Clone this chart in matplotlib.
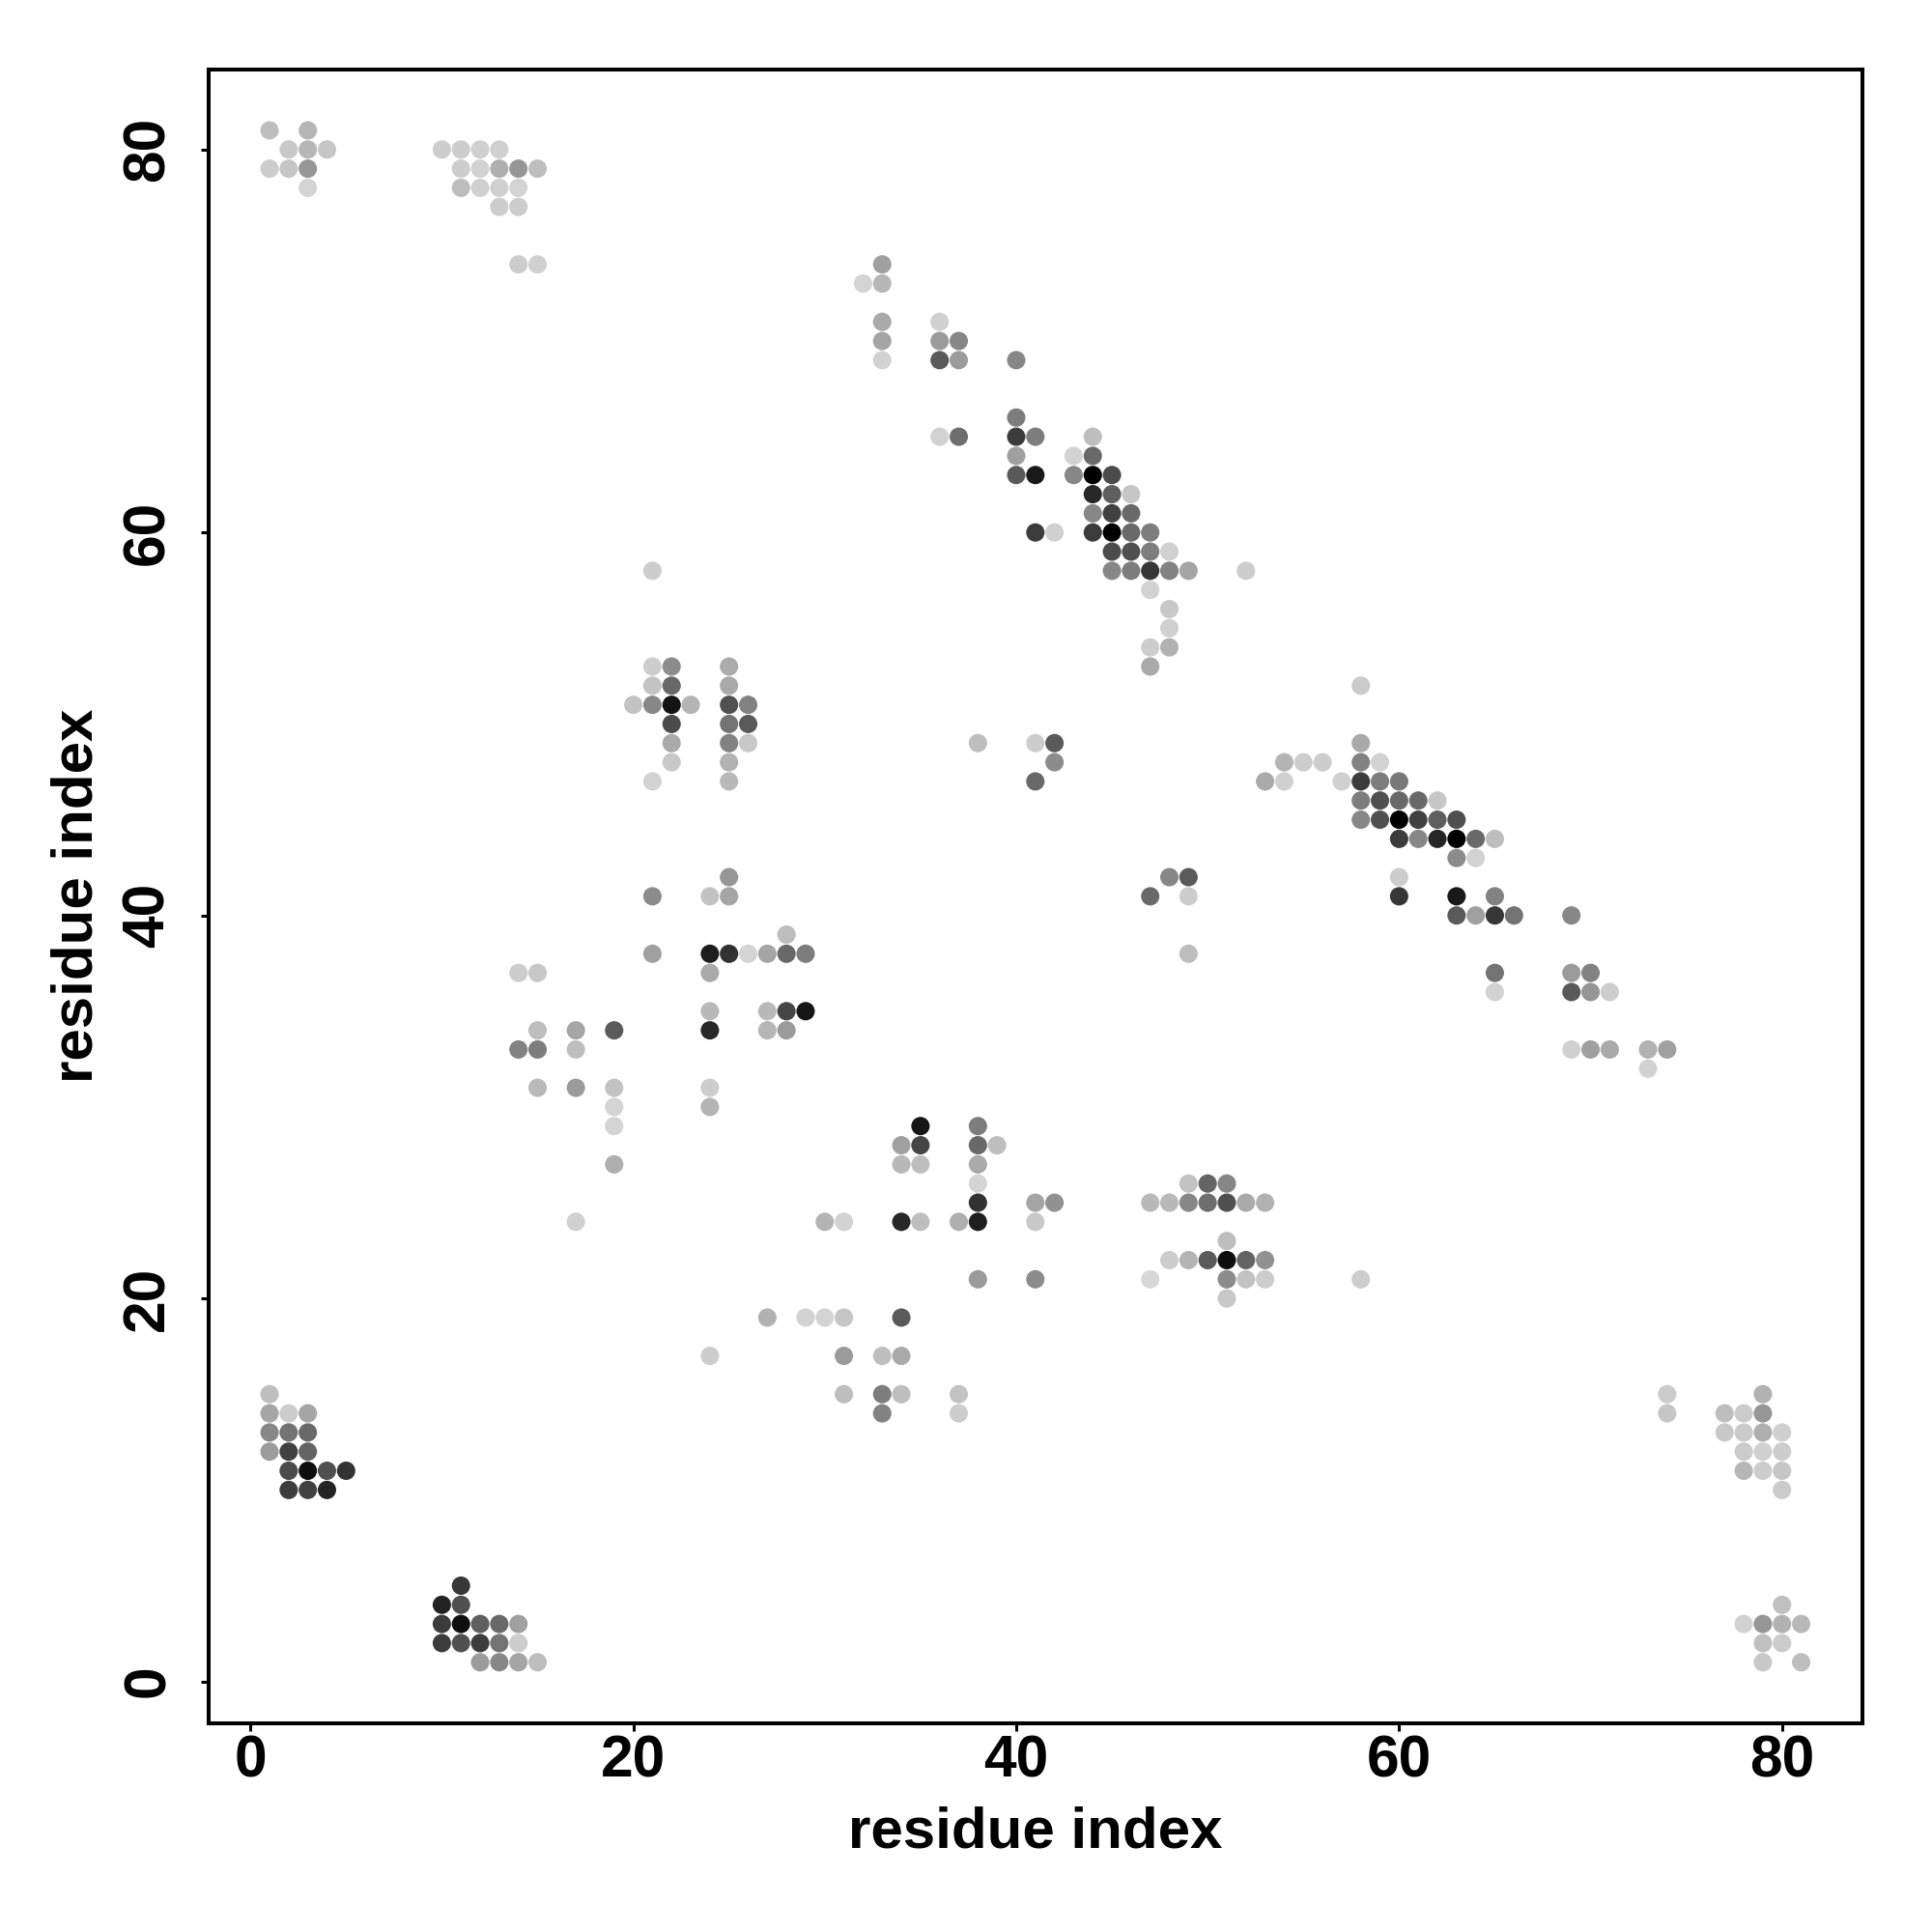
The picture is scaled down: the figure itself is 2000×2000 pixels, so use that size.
import matplotlib
matplotlib.use('Agg')
import matplotlib.pyplot as plt

plt.rcParams['font.family'] = ['Liberation Sans', 'DejaVu Sans']
plt.rcParams['font.weight'] = 'bold'

# contacts, one line per row of the map (top to bottom)
res_x = [
    1, 3,
    2, 3, 4, 10, 11, 12, 13,
    1, 2, 3, 11, 12, 13, 14, 15,
    3, 11, 12, 13, 14,
    13, 14,
    14, 15, 33,
    32, 33,
    33, 36,
    33, 36, 37,
    33, 36, 37, 40,
    40,
    36, 37, 40, 41, 44,
    40, 43, 44,
    40, 41, 43, 44, 45,
    44, 45, 46,
    44, 45, 46,
    41, 42, 44, 45, 46, 47,
    45, 46, 47, 48,
    21, 45, 46, 47, 48, 49, 52,
    47,
    48,
    48,
    47, 48,
    21, 22, 25, 47,
    21, 22, 25, 58,
    20, 21, 22, 23, 25, 26,
    22, 25, 26,
    22, 25, 26, 38, 41, 42, 58,
    22, 25, 42, 54, 55, 56, 58, 59,
    21, 25, 41, 53, 54, 57, 58, 59, 60,
    58, 59, 60, 61, 62,
    58, 59, 60, 61, 62, 63,
    60, 61, 62, 63, 64, 65,
    63, 64,
    25, 48, 49, 60,
    21, 24, 25, 47, 49, 60, 63, 65,
    63, 64, 65, 66, 69,
    28,
    21, 24, 25, 26, 27, 28, 29, 49,
    14, 15, 24, 65, 69, 70,
    65, 69, 70, 71,
    24, 27, 28, 29,
    15, 17, 19, 24, 27, 28,
    14, 15, 17, 69, 70, 71, 73, 74,
    73,
    15, 17, 19, 24,
    19, 24,
    19, 35, 38,
    34, 35, 38, 39,
    19, 34, 35, 38,
    38, 49, 50, 51,
    38, 41, 42, 47, 48, 49, 50, 51, 52, 53,
    17, 30, 31, 34, 35, 37, 38, 41,
    51,
    48, 49, 50, 51, 52, 53,
    38, 41, 47, 51, 52, 53, 58,
    51,
    27, 29, 30, 31, 34,
    24, 31, 33, 34,
    1, 31, 33, 34, 37, 74, 79,
    1, 2, 3, 33, 37, 74, 77, 78, 79,
    1, 2, 3, 77, 78, 79, 80,
    1, 2, 3, 78, 79, 80,
    2, 3, 4, 5, 78, 79, 80,
    2, 3, 4, 80,
    11,
    10, 11, 80,
    10, 11, 12, 13, 14, 78, 79, 80, 81,
    10, 11, 12, 13, 14, 79, 80,
    12, 13, 14, 15, 79, 81,
]
res_y = [
    81, 81,
    80, 80, 80, 80, 80, 80, 80,
    79, 79, 79, 79, 79, 79, 79, 79,
    78, 78, 78, 78, 78,
    77, 77,
    74, 74, 74,
    73, 73,
    71, 71,
    70, 70, 70,
    69, 69, 69, 69,
    66,
    65, 65, 65, 65, 65,
    64, 64, 64,
    63, 63, 63, 63, 63,
    62, 62, 62,
    61, 61, 61,
    60, 60, 60, 60, 60, 60,
    59, 59, 59, 59,
    58, 58, 58, 58, 58, 58, 58,
    57,
    56,
    55,
    54, 54,
    53, 53, 53, 53,
    52, 52, 52, 52,
    51, 51, 51, 51, 51, 51,
    50, 50, 50,
    49, 49, 49, 49, 49, 49, 49,
    48, 48, 48, 48, 48, 48, 48, 48,
    47, 47, 47, 47, 47, 47, 47, 47, 47,
    46, 46, 46, 46, 46,
    45, 45, 45, 45, 45, 45,
    44, 44, 44, 44, 44, 44,
    43, 43,
    42, 42, 42, 42,
    41, 41, 41, 41, 41, 41, 41, 41,
    40, 40, 40, 40, 40,
    39,
    38, 38, 38, 38, 38, 38, 38, 38,
    37, 37, 37, 37, 37, 37,
    36, 36, 36, 36,
    35, 35, 35, 35,
    34, 34, 34, 34, 34, 34,
    33, 33, 33, 33, 33, 33, 33, 33,
    32,
    31, 31, 31, 31,
    30, 30,
    29, 29, 29,
    28, 28, 28, 28,
    27, 27, 27, 27,
    26, 26, 26, 26,
    25, 25, 25, 25, 25, 25, 25, 25, 25, 25,
    24, 24, 24, 24, 24, 24, 24, 24,
    23,
    22, 22, 22, 22, 22, 22,
    21, 21, 21, 21, 21, 21, 21,
    20,
    19, 19, 19, 19, 19,
    17, 17, 17, 17,
    15, 15, 15, 15, 15, 15, 15,
    14, 14, 14, 14, 14, 14, 14, 14, 14,
    13, 13, 13, 13, 13, 13, 13,
    12, 12, 12, 12, 12, 12,
    11, 11, 11, 11, 11, 11, 11,
    10, 10, 10, 10,
    5,
    4, 4, 4,
    3, 3, 3, 3, 3, 3, 3, 3, 3,
    2, 2, 2, 2, 2, 2, 2,
    1, 1, 1, 1, 1, 1,
]
# grey level of each dot, 0 = black, 255 = white
shade = [
    190, 182,
    200, 182, 198, 205, 205, 208, 208,
    205, 198, 150, 205, 210, 175, 150, 190,
    212, 188, 208, 208, 212,
    205, 205,
    205, 208, 160,
    212, 182,
    170, 208,
    165, 155, 135,
    210, 90, 155, 135,
    125,
    210, 110, 60, 125, 190,
    160, 210, 105,
    90, 25, 135, 0, 75,
    40, 95, 198,
    135, 65, 105,
    60, 208, 60, 0, 105, 125,
    75, 80, 125, 208,
    205, 135, 125, 55, 130, 165, 205,
    210,
    200,
    208,
    205, 178,
    205, 140, 172, 170,
    195, 105, 170, 203,
    195, 135, 20, 180, 80, 130,
    75, 115, 90,
    170, 130, 200, 190, 205, 90, 170,
    200, 178, 140, 180, 205, 205, 130, 210,
    210, 185, 105, 170, 208, 208, 60, 125, 120,
    125, 80, 105, 105, 198,
    135, 80, 0, 65, 95, 80,
    60, 135, 38, 0, 105, 190,
    140, 210,
    150, 135, 90, 205,
    140, 195, 165, 105, 205, 55, 25, 130,
    90, 160, 55, 115, 135,
    190,
    160, 30, 50, 212, 165, 105, 125, 190,
    205, 200, 170, 115, 155, 130,
    210, 90, 150, 205,
    185, 185, 70, 22,
    190, 165, 90, 40, 182, 155,
    130, 125, 190, 208, 160, 170, 178, 160,
    210,
    185, 155, 195, 205,
    212, 180,
    212, 22, 125,
    160, 70, 105, 190,
    175, 185, 190, 170,
    212, 195, 100, 135,
    50, 165, 145, 185, 185, 135, 110, 80, 170, 178,
    208, 180, 210, 40, 190, 175, 30, 200,
    190,
    205, 180, 90, 15, 100, 145,
    155, 140, 215, 140, 195, 205, 205,
    200,
    178, 210, 212, 198, 90,
    205, 155, 190, 170,
    190, 190, 125, 190, 195, 203, 178,
    165, 205, 165, 130, 205, 198, 190, 203, 150,
    135, 115, 105, 200, 203, 175, 208,
    155, 65, 100, 203, 208, 205,
    75, 15, 80, 50, 182, 205, 198,
    60, 65, 35, 203,
    55,
    35, 80, 192,
    60, 15, 95, 105, 160, 210, 150, 178, 185,
    60, 80, 60, 115, 205, 192, 203,
    155, 135, 165, 190, 200, 190,
]
tick_values = [0, 20, 40, 60, 80]
axis_label = 'residue index'

fig = plt.figure(figsize=(10, 10), dpi=200)
# frame edges measured in pixels on the 2000 px canvas
ax = fig.add_axes([216 / 2000, 1 - 1784 / 2000, (1928 - 216) / 2000, (1784 - 71.5) / 2000])

ax.scatter(res_x, res_y, c=shade, cmap='gray', vmin=0, vmax=255, s=47, linewidths=0)

ax.set_xlim(-2.18, 84.2)
ax.set_ylim(-2.19, 84.2)
ax.set_xticks(tick_values)
ax.set_yticks(tick_values)
ax.tick_params(axis='both', length=3, width=1.1, labelsize=21.8)
ax.tick_params(axis='x', pad=1.2)
ax.tick_params(axis='y', labelrotation=90, pad=9)
for lab in ax.get_yticklabels():
    lab.set_va('center')
for side in ax.spines.values():
    side.set_linewidth(1.45)

ax.set_xlabel(axis_label, fontsize=21.6, fontweight='bold', labelpad=6)
ax.set_ylabel(axis_label, fontsize=21.6, fontweight='bold', labelpad=6.4)

fig.savefig('out.png', dpi=200)
